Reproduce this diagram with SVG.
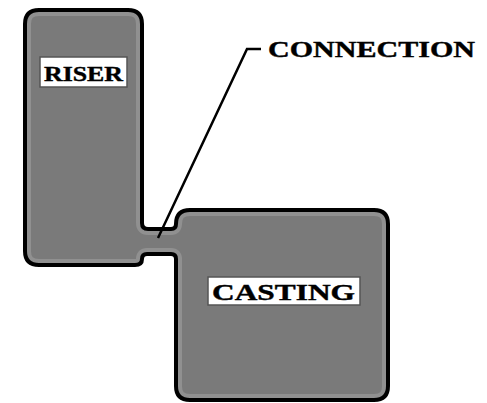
<svg xmlns="http://www.w3.org/2000/svg" width="487" height="403" viewBox="0 0 487 403">
<style>
.lbl{font-family:"Liberation Serif","DejaVu Serif",serif;font-weight:bold;fill:#000;stroke:#000;stroke-width:0.4}
.box{fill:#fff;stroke:#555;stroke-width:1.5}
.lead{fill:none;stroke:#000;stroke-width:2.5;stroke-linejoin:miter}
</style>
<defs>
<path id="shape" d="M 39,10 H 128 Q 142,10 142,24 V 223 Q 142,229 148,229 H 171 Q 176,229 176,224 Q 176,210 190,210 H 374 Q 388,210 388,224 V 386 Q 388,400 374,400 H 190 Q 176,400 176,386 V 259 Q 176,254 171,254 H 147 Q 142,254 142,259 Q 142,265 135,265 H 39 Q 25,265 25,251 V 24 Q 25,10 39,10 Z"/>
<clipPath id="clip"><use href="#shape"/></clipPath>
</defs>
<rect width="487" height="403" fill="#fff"/>
<g id="body">
<use href="#shape" fill="#7a7a7a"/>
<use href="#shape" fill="none" stroke="#909090" stroke-width="12" clip-path="url(#clip)"/>
<use href="#shape" fill="none" stroke="#000" stroke-width="4"/>
</g>
<g id="riser">
<rect class="box" x="40" y="57" width="87" height="30"/>
<text class="lbl" x="44" y="81" font-size="22" textLength="79" lengthAdjust="spacingAndGlyphs">RISER</text>
</g>
<g id="casting">
<rect class="box" x="208" y="277" width="152" height="28"/>
<text class="lbl" x="212" y="300" font-size="23" textLength="143" lengthAdjust="spacingAndGlyphs">CASTING</text>
</g>
<g id="connectors">
<polyline class="lead" points="158,238 247,49 261,49"/>
</g>
<g id="connection">
<text class="lbl" x="268" y="57" font-size="23" textLength="207" lengthAdjust="spacingAndGlyphs">CONNECTION</text>
</g>
</svg>
